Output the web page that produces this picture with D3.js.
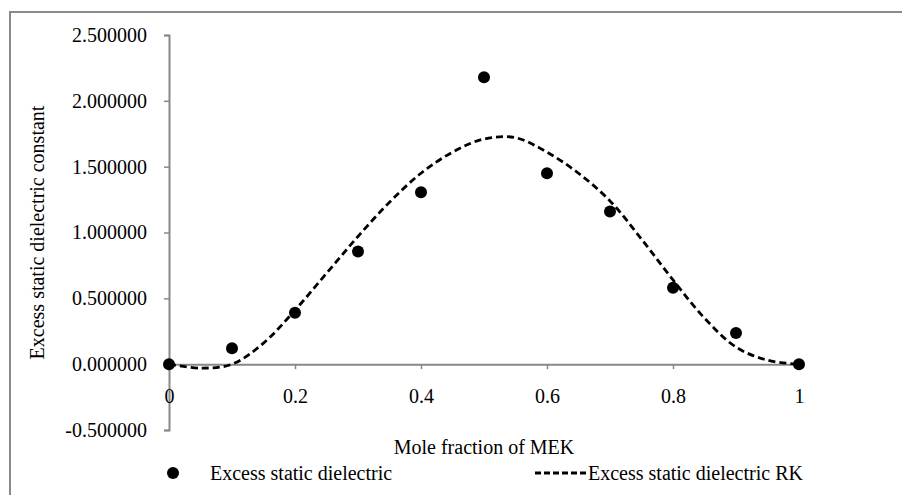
<!DOCTYPE html>
<html>
<head>
<meta charset="utf-8">
<script src="https://cdn.jsdelivr.net/npm/d3@7"></script>
<style>
  body { margin: 0; background: #fff; }
  svg { display: block; font-family: "Liberation Serif", "Times New Roman", serif; }
</style>
</head>
<body>
<svg id="chart" width="902" height="495"></svg>
<script>
// measured values
const moleFraction = [0, 0.1, 0.2, 0.3, 0.4, 0.5, 0.6, 0.7, 0.8, 0.9, 1];
const excessDielectric = [0, 0.12, 0.39, 0.855, 1.305, 2.18, 1.45, 1.16, 0.58, 0.237, 0];

// RK fit curve
const rkX = [0, 0.05, 0.1, 0.15, 0.2, 0.25, 0.3, 0.35, 0.4, 0.45, 0.5, 0.55, 0.6, 0.65, 0.7, 0.75, 0.8, 0.85, 0.9, 0.95, 1];
const rkY = [0, -0.03, 0.0, 0.16, 0.41, 0.69, 0.97, 1.23, 1.45, 1.61, 1.71, 1.72, 1.61, 1.45, 1.24, 0.95, 0.64, 0.35, 0.13, 0.03, 0];

const xTicks = [0, 0.2, 0.4, 0.6, 0.8, 1];
const yTicks = [-0.5, 0, 0.5, 1, 1.5, 2, 2.5];

const seriesNames = ["Excess static dielectric", "Excess static dielectric RK"];
const xTitle = "Mole fraction of MEK";
const yTitle = "Excess static dielectric constant";

const svg = d3.select("#chart");
const axisColor = "#888888";
const fontSize = 20;
const serif = "'Liberation Serif', 'Times New Roman', serif";

// chart border
svg.append("rect")
  .attr("x", 10).attr("y", 12)
  .attr("width", 900).attr("height", 490)
  .attr("fill", "none")
  .attr("stroke", "#8a8a8a")
  .attr("stroke-width", 2);

const x = d3.scaleLinear().domain([0, 1]).range([169, 799]);
const y = d3.scaleLinear().domain([-0.5, 2.5]).range([430, 35]);

// y axis
const yAxis = svg.append("g")
  .attr("transform", `translate(${x(0)},0)`)
  .call(d3.axisLeft(y).tickValues(yTicks).tickSize(5).tickPadding(17)
    .tickFormat(d => d3.format(".6f")(d).replace("−", "-")));

// x axis sits on y = 0
const xAxis = svg.append("g")
  .attr("transform", `translate(0,${y(0)})`)
  .call(d3.axisBottom(x).tickValues(xTicks).tickSize(5).tickPadding(20)
    .tickFormat(d => d === 0 || d === 1 ? d : d3.format(".1f")(d)));

[yAxis, xAxis].forEach(a => {
  a.attr("font-family", serif).attr("font-size", fontSize);
  a.select(".domain").attr("stroke", axisColor).attr("stroke-width", 2);
  a.selectAll(".tick line").attr("stroke", axisColor).attr("stroke-width", 1.5);
  a.selectAll(".tick text").attr("fill", "#000");
});
// zero tick on x axis would overlap the y axis
xAxis.selectAll(".tick").filter(d => d === 0).select("line").remove();

// RK dashed curve
const line = d3.line()
  .x((d, i) => x(rkX[i]))
  .y(d => y(d))
  .curve(d3.curveCatmullRom.alpha(0.5));

svg.append("path")
  .datum(rkY)
  .attr("d", line)
  .attr("fill", "none")
  .attr("stroke", "#000")
  .attr("stroke-width", 2.8)
  .attr("stroke-dasharray", "7,4");

// measured points
svg.selectAll(".pt")
  .data(excessDielectric)
  .enter()
  .append("circle")
  .attr("class", "pt")
  .attr("cx", (d, i) => x(moleFraction[i]))
  .attr("cy", d => y(d))
  .attr("r", 6)
  .attr("fill", "#000");

// axis titles
svg.append("text")
  .attr("x", (x(0) + x(1)) / 2)
  .attr("y", 454)
  .attr("text-anchor", "middle")
  .attr("font-size", fontSize)
  .text(xTitle);

svg.append("text")
  .attr("transform", `translate(44,${(y(-0.5) + y(2.5)) / 2}) rotate(-90)`)
  .attr("text-anchor", "middle")
  .attr("font-size", fontSize)
  .text(yTitle);

// legend
const legend = svg.append("g").attr("font-size", fontSize);
legend.append("circle")
  .attr("cx", 173).attr("cy", 473).attr("r", 6).attr("fill", "#000");
legend.append("text")
  .attr("x", 210).attr("y", 480)
  .text(seriesNames[0]);

legend.append("line")
  .attr("x1", 535).attr("x2", 586)
  .attr("y1", 473).attr("y2", 473)
  .attr("stroke", "#000")
  .attr("stroke-width", 2.8)
  .attr("stroke-dasharray", "6,3");
legend.append("text")
  .attr("x", 588).attr("y", 480)
  .text(seriesNames[1]);
</script>
</body>
</html>
